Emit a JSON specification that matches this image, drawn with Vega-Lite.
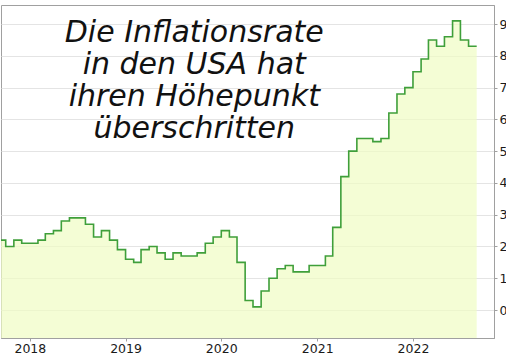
{
  "$schema": "https://vega.github.io/schema/vega-lite/v6.json",
  "width": 493,
  "height": 333,
  "autosize": {"type": "none"},
  "padding": {"left": 1, "top": 5, "right": 12, "bottom": 19},
  "background": "white",
  "config": {
    "view": {"stroke": "#a0a0a0", "strokeWidth": 1},
    "axis": {"labelFont": "DejaVu Sans", "labelFontSize": 12.5, "labelColor": "#1a1a1a", "domainColor": "#a0a0a0", "tickColor": "#a0a0a0", "title": null}
  },
  "layer": [
    {
      "data": {
        "values": [
          {"d": "2017-09-01", "v": 2.2}, {"d": "2017-10-01", "v": 2.0}, {"d": "2017-11-01", "v": 2.2}, {"d": "2017-12-01", "v": 2.1},
          {"d": "2018-01-01", "v": 2.1}, {"d": "2018-02-01", "v": 2.2}, {"d": "2018-03-01", "v": 2.4}, {"d": "2018-04-01", "v": 2.5},
          {"d": "2018-05-01", "v": 2.8}, {"d": "2018-06-01", "v": 2.9}, {"d": "2018-07-01", "v": 2.9}, {"d": "2018-08-01", "v": 2.7},
          {"d": "2018-09-01", "v": 2.3}, {"d": "2018-10-01", "v": 2.5}, {"d": "2018-11-01", "v": 2.2}, {"d": "2018-12-01", "v": 1.9},
          {"d": "2019-01-01", "v": 1.6}, {"d": "2019-02-01", "v": 1.5}, {"d": "2019-03-01", "v": 1.9}, {"d": "2019-04-01", "v": 2.0},
          {"d": "2019-05-01", "v": 1.8}, {"d": "2019-06-01", "v": 1.6}, {"d": "2019-07-01", "v": 1.8}, {"d": "2019-08-01", "v": 1.7},
          {"d": "2019-09-01", "v": 1.7}, {"d": "2019-10-01", "v": 1.8}, {"d": "2019-11-01", "v": 2.1}, {"d": "2019-12-01", "v": 2.3},
          {"d": "2020-01-01", "v": 2.5}, {"d": "2020-02-01", "v": 2.3}, {"d": "2020-03-01", "v": 1.5}, {"d": "2020-04-01", "v": 0.3},
          {"d": "2020-05-01", "v": 0.1}, {"d": "2020-06-01", "v": 0.6}, {"d": "2020-07-01", "v": 1.0}, {"d": "2020-08-01", "v": 1.3},
          {"d": "2020-09-01", "v": 1.4}, {"d": "2020-10-01", "v": 1.2}, {"d": "2020-11-01", "v": 1.2}, {"d": "2020-12-01", "v": 1.4},
          {"d": "2021-01-01", "v": 1.4}, {"d": "2021-02-01", "v": 1.7}, {"d": "2021-03-01", "v": 2.6}, {"d": "2021-04-01", "v": 4.2},
          {"d": "2021-05-01", "v": 5.0}, {"d": "2021-06-01", "v": 5.4}, {"d": "2021-07-01", "v": 5.4}, {"d": "2021-08-01", "v": 5.3},
          {"d": "2021-09-01", "v": 5.4}, {"d": "2021-10-01", "v": 6.2}, {"d": "2021-11-01", "v": 6.8}, {"d": "2021-12-01", "v": 7.0},
          {"d": "2022-01-01", "v": 7.5}, {"d": "2022-02-01", "v": 7.9}, {"d": "2022-03-01", "v": 8.5}, {"d": "2022-04-01", "v": 8.3},
          {"d": "2022-05-01", "v": 8.6}, {"d": "2022-06-01", "v": 9.1}, {"d": "2022-07-01", "v": 8.5}, {"d": "2022-08-01", "v": 8.3},
          {"d": "2022-09-01", "v": 8.3}
        ],
        "format": {"parse": {"d": "date:'%Y-%m-%d'"}}
      },
      "mark": {"type": "area", "interpolate": "step-after", "color": "#effcc3", "clip": true,
               "line": {"color": "#3f9f3a", "strokeWidth": 1.6}},
      "encoding": {
        "x": {
          "field": "d", "type": "temporal",
          "scale": {"domain": [{"year": 2017, "month": 9, "date": 13}, {"year": 2022, "month": 11, "date": 6}]},
          "axis": {"format": "%Y", "tickCount": {"interval": "year", "step": 1}, "grid": false, "tickSize": 3, "labelPadding": 1, "labelFlush": false}
        },
        "y": {
          "field": "v", "type": "quantitative",
          "scale": {"domain": [-0.88, 9.6], "nice": false, "zero": false},
          "axis": {"orient": "right", "values": [0, 1, 2, 3, 4, 5, 6, 7, 8, 9], "grid": true, "gridColor": "#e4e4e4", "tickSize": 3, "labelPadding": 2, "labelBaseline": "middle", "labelOverlap": false}
        },
        "y2": {"datum": -0.88}
      }
    },
    {
      "data": {"values": [{"label": "Die Inflationsrate\nin den USA hat\nihren Höhepunkt\nüberschritten"}]},
      "mark": {"type": "text", "font": "DejaVu Sans", "fontStyle": "italic", "fontWeight": 200, "fontSize": 30, "lineHeight": 32, "align": "center", "baseline": "middle", "color": "#111111", "lineBreak": "\n"},
      "encoding": {
        "x": {"datum": {"year": 2019, "month": 9, "date": 20}, "type": "temporal",
              "axis": {"format": "%Y", "tickCount": {"interval": "year", "step": 1}, "grid": false, "tickSize": 3, "labelPadding": 1, "labelFlush": false}},
        "y": {"datum": 8.72, "type": "quantitative",
              "axis": {"orient": "right", "values": [0, 1, 2, 3, 4, 5, 6, 7, 8, 9], "grid": true, "gridColor": "#e4e4e4", "tickSize": 3, "labelPadding": 2, "labelBaseline": "middle", "labelOverlap": false}},
        "text": {"field": "label"}
      }
    }
  ]
}
